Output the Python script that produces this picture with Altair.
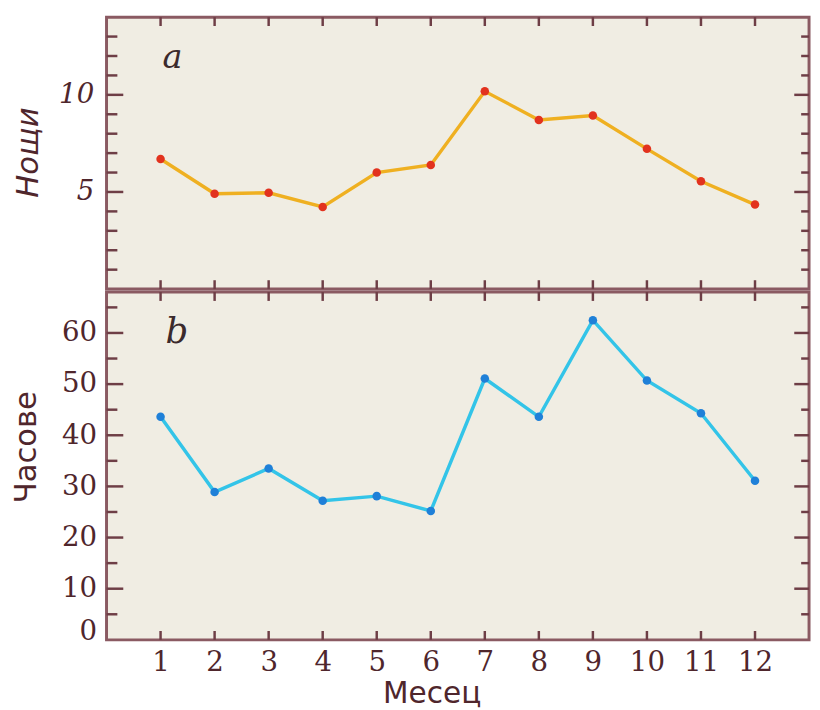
import altair as alt
import pandas as pd

# ---- data ----
months = list(range(1, 13))
nights = [6.70, 4.91, 4.96, 4.23, 6.00, 6.39, 10.18, 8.71, 8.94, 7.22, 5.55, 4.35]
hours = [43.6, 28.9, 33.5, 27.2, 28.1, 25.2, 51.1, 43.6, 62.5, 50.7, 44.3, 31.1]

nights_labels = [5, 10]
nights_ticks_major = [5, 10]
nights_ticks_minor = [1, 2, 3, 4, 6, 7, 8, 9, 11, 12, 13]
hours_labels = [0, 10, 20, 30, 40, 50, 60]
hours_ticks_major = [10, 20, 30, 40, 50, 60]
hours_ticks_minor = [5, 15, 25, 35, 45, 55, 65]
panel_names = ["a", "b"]

# ---- styling ----
W, H1, H2 = 713, 276, 353
BG = "#f0ede3"
FRAME = "#8a5a62"
TICK = "#6e3e46"
TEXT = "#4f262c"
LINE_A, PT_A = "#efb021", "#e2321e"
LINE_B, PT_B = "#33c4e8", "#1f80d8"

xs = alt.Scale(domain=[0, 13], nice=False, zero=False)
ys1 = alt.Scale(domain=[0, 14], nice=False, zero=False)
ys2 = alt.Scale(domain=[0, 68], nice=False, zero=False)

ax_y1 = alt.Axis(
    values=nights_labels, grid=False, ticks=False, tickSize=0, domain=False,
    labelFont="DejaVu Serif", labelFontStyle="italic", labelFontSize=28,
    labelColor=TEXT, labelPadding=13,
    title="Нощи", titleFont="DejaVu Sans", titleFontStyle="italic",
    titleFontWeight="normal", titleFontSize=31, titleColor=TEXT,
    titleX=-79, titleY=137, titleBaseline="middle", titleAngle=270,
)
ax_y2 = alt.Axis(
    values=hours_labels, grid=False, ticks=False, tickSize=0, domain=False,
    labelFont="DejaVu Serif", labelFontSize=28, labelColor=TEXT,
    labelPadding=10,
    labelBaseline={"condition": {"test": "datum.value === 0", "value": "alphabetic"},
                   "value": "middle"},
    title="Часове", titleFont="DejaVu Sans", titleFontWeight="normal",
    titleFontSize=31, titleColor=TEXT,
    titleX=-81, titleY=157, titleBaseline="middle", titleAngle=270,
)
ax_x2 = alt.Axis(
    values=months, format="d", grid=False, ticks=False, tickSize=0, domain=False,
    labelFont="DejaVu Serif", labelFontSize=28, labelColor=TEXT,
    labelPadding=9, labelFlush=False,
    title="Месец", titleFont="DejaVu Sans", titleFontWeight="normal",
    titleFontSize=30, titleColor=TEXT, titleX=330, titleY=64,
    titleBaseline="alphabetic", titleAlign="center",
)


def ytick_layer(vals, scale, yaxis, length, side):
    df = pd.DataFrame({"v": vals})
    if side == "left":
        xe, x2e = alt.value(0), alt.value(length)
    else:
        xe, x2e = alt.value(W), alt.value(W - length)
    return alt.Chart(df).mark_rule(color=TICK, strokeWidth=2.5).encode(
        y=alt.Y("v:Q", scale=scale, axis=yaxis), x=xe, x2=x2e
    )


def xtick_layer(H, xaxis, side):
    df = pd.DataFrame({"m": months})
    if side == "top":
        ye, y2e = alt.value(0), alt.value(9)
    else:
        ye, y2e = alt.value(H), alt.value(H - 9)
    return alt.Chart(df).mark_rule(color=TICK, strokeWidth=2.5).encode(
        x=alt.X("m:Q", scale=xs, axis=xaxis), y=ye, y2=y2e
    )


def panel_label(name, mx, vy, xaxis, scale, yaxis, size):
    df = pd.DataFrame({"t": [name], "m": [mx], "v": [vy]})
    return alt.Chart(df).mark_text(
        font="DejaVu Serif", fontStyle="italic", fontSize=size, color="#3b2a2c",
        align="center", baseline="middle",
    ).encode(
        x=alt.X("m:Q", scale=xs, axis=xaxis),
        y=alt.Y("v:Q", scale=scale, axis=yaxis),
        text="t:N",
    )


def panel(values, H, xaxis, yscale, yaxis, line_c, pt_c, name, lx, ly, lsize,
          major, minor):
    df = pd.DataFrame({"m": months, "v": values})
    base = alt.Chart(df).encode(
        x=alt.X("m:Q", scale=xs, axis=xaxis),
        y=alt.Y("v:Q", scale=yscale, axis=yaxis),
    )
    return alt.layer(
        base.mark_line(color=line_c, strokeWidth=3.5),
        base.mark_circle(color=pt_c, size=75, opacity=1),
        panel_label(name, lx, ly, xaxis, yscale, yaxis, lsize),
        ytick_layer(major, yscale, yaxis, 17, "left"),
        ytick_layer(minor, yscale, yaxis, 11, "left"),
        ytick_layer(major, yscale, yaxis, 15, "right"),
        ytick_layer(minor, yscale, yaxis, 8, "right"),
        xtick_layer(H, xaxis, "top"),
        xtick_layer(H, xaxis, "bottom"),
    ).properties(width=W, height=H)


top = panel(nights, H1, None, ys1, ax_y1, LINE_A, PT_A, panel_names[0],
            1.22, 11.9, 34, nights_ticks_major, nights_ticks_minor)
bottom = panel(hours, H2, ax_x2, ys2, ax_y2, LINE_B, PT_B, panel_names[1],
               1.3, 60.2, 36, hours_ticks_major, hours_ticks_minor)

chart = (
    alt.vconcat(top, bottom, spacing=-6)
    .properties(padding={"left": 1, "top": 1, "right": 0, "bottom": 0},
                background="white")
    .configure_view(stroke=FRAME, strokeWidth=3, fill=BG)
)

chart.save("out.html", embed_options={"renderer": "svg", "actions": False})
